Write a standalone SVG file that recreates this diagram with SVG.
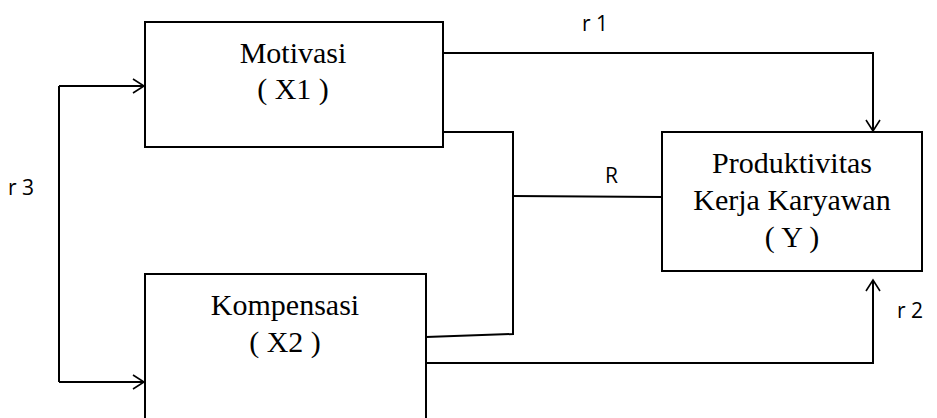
<svg xmlns="http://www.w3.org/2000/svg" width="937" height="418" viewBox="0 0 937 418">
<style>
.box{fill:#fff;stroke:#000;stroke-width:2}
.ln{fill:none;stroke:#000;stroke-width:2}
.t{font-family:"Liberation Serif","Times New Roman",serif;font-size:30px;text-anchor:middle;fill:#000}
.l{font-family:"Open Sans","Liberation Sans",sans-serif;font-size:21px;fill:#000}
</style>
<defs>
<marker id="ah" markerWidth="14" markerHeight="16" refX="12" refY="8" orient="auto" markerUnits="userSpaceOnUse">
<path d="M1,1 L12,8 L1,15" fill="none" stroke="#000" stroke-width="1.6"/>
</marker>
</defs>
<rect width="937" height="418" fill="#fff"/>
<g id="connectors">
<path class="ln" d="M59,86 L59,382"/>
<path class="ln" d="M59,86 L144,86" marker-end="url(#ah)"/>
<path class="ln" d="M59,382 L144,382" marker-end="url(#ah)"/>
<path class="ln" d="M443,53 L873,53 L873,131" marker-end="url(#ah)"/>
<path class="ln" d="M426,363 L873,363 L873,280" marker-end="url(#ah)"/>
<path class="ln" d="M443,132 L513,132 L513,334 L426,337"/>
<path class="ln" d="M513,196 L662,197"/>
<text class="l" x="582" y="31">r 1</text>
<text class="l" x="605" y="183">R</text>
<text class="l" x="8" y="195">r 3</text>
<text class="l" x="897" y="318">r 2</text>
</g>
<g id="motivasi">
<rect class="box" x="145" y="22" width="298" height="125"/>
<text class="t" x="293" y="63">Motivasi</text>
<text class="t" x="293" y="99">( X1 )</text>
</g>
<g id="kompensasi">
<rect class="box" x="145" y="274" width="281" height="160"/>
<text class="t" x="285" y="315">Kompensasi</text>
<text class="t" x="285" y="352">( X2 )</text>
</g>
<g id="produktivitas">
<rect class="box" x="662" y="132" width="260" height="139"/>
<text class="t" x="792" y="173">Produktivitas</text>
<text class="t" x="792" y="210">Kerja Karyawan</text>
<text class="t" x="792" y="247">( Y )</text>
</g>
</svg>
